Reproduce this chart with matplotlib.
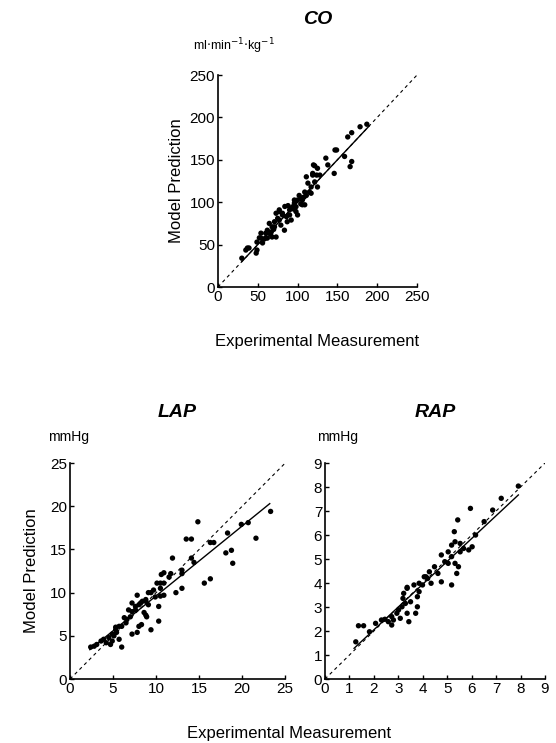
import numpy as np
import matplotlib
matplotlib.use('Agg')
import matplotlib.pyplot as plt

plt.rcParams['font.family'] = ['Liberation Sans', 'DejaVu Sans']

# CO  (ml/min/kg)
co_x = [30, 35, 37, 39, 48, 49, 49, 54, 54, 58,
        60, 60, 62, 62, 64.5, 67, 68, 68, 71, 71,
        73, 73, 75, 77, 77, 77, 79, 81, 81, 83.5,
        86, 87, 90, 90, 92, 92, 94, 96, 96, 98,
        98, 100, 100, 105, 106, 106, 109, 109, 111, 111,
        113, 115, 117, 117, 119, 119, 120, 121.5, 121.5, 124,
        125, 125, 128, 135.5, 138, 146, 147, 149, 159, 163,
        166, 168, 168, 178.5, 187,
        84, 88, 102, 104, 66, 56, 52, 70, 95, 108]
co_y = [34, 43.6, 46, 46, 40, 43.6, 53, 57.7, 63.5, 56.6,
        63.5, 58, 57.7, 67, 75, 65, 71, 59, 77, 71,
        59, 87, 81, 89, 91, 79, 73, 87, 85, 67,
        83, 77, 91, 85, 79, 93, 94.7, 99, 102.6, 89,
        94.7, 102.6, 85, 105, 97, 102.6, 112, 97, 108, 130,
        122.5, 112, 118, 110.6, 132, 134, 144, 124, 143, 132,
        140, 118, 132, 152, 144, 134, 161.6, 161.6, 154, 177,
        142, 148, 182, 189, 192,
        95, 96, 108, 98, 62, 52, 58, 68, 92, 106]
co_fit_x = [30, 190]
co_fit_y = [30, 190]

# LAP (mmHg)
lap_x = [2.4, 2.8, 3.1, 3.6, 3.9, 4.2, 4.5, 4.7, 4.9, 4.9,
         5.1, 5.3, 5.3, 5.4, 5.7, 5.7, 6.0, 6.0, 6.3, 6.5,
         6.6, 6.8, 7.0, 7.2, 7.2, 7.2, 7.6, 7.6, 7.8, 7.8,
         8.0, 8.0, 8.2, 8.3, 8.4, 8.6, 8.8, 8.8, 8.8, 8.9,
         9.1, 9.1, 9.4, 9.4, 9.7, 9.9, 10.1, 10.3, 10.3, 10.5,
         10.5, 10.5, 10.6, 10.9, 10.9, 10.9, 11.5, 11.7, 11.9, 12.3,
         13.0, 13.0, 13.0, 13.5, 14.1, 14.1, 14.4, 14.85, 15.6, 16.3,
         16.3, 16.7, 18.1, 18.3, 18.75, 18.9, 19.9, 20.7, 21.6, 23.3]
lap_y = [3.7, 3.8, 4.0, 4.4, 4.6, 4.2, 4.8, 4.0, 4.4, 5.2,
         5.0, 5.7, 6.0, 5.4, 4.6, 6.1, 3.7, 6.1, 7.1, 6.5,
         6.9, 8.0, 7.2, 5.2, 7.8, 8.8, 8.0, 8.4, 5.4, 9.7,
         6.1, 8.6, 8.8, 6.3, 9.0, 7.7, 7.4, 9.0, 9.2, 7.2,
         8.6, 10.0, 5.7, 10.0, 10.3, 9.5, 11.1, 6.7, 8.4, 9.6,
         10.5, 11.1, 12.1, 9.7, 11.1, 12.3, 11.8, 12.2, 14.0, 10.0,
         10.5, 12.2, 12.6, 16.2, 16.2, 14.0, 13.5, 18.2, 11.1, 11.6,
         15.8, 15.8, 14.6, 16.9, 14.9, 13.4, 17.9, 18.1, 16.3, 19.4]
lap_fit_x = [2.3, 23.2]
lap_fit_y = [3.4, 20.3]

# RAP (mmHg)
rap_x = [1.26, 1.37, 1.58, 1.82, 2.07, 2.31, 2.45, 2.59, 2.73, 2.73,
         2.80, 2.94, 3.08, 3.43, 3.36, 3.01, 3.15, 3.29, 3.50, 3.71,
         3.78, 3.22, 3.36, 3.19, 3.78, 3.85, 3.99, 4.13,
         3.36, 3.64, 3.85, 4.06, 4.27, 4.34, 4.76, 5.18, 4.48, 4.62,
         4.76, 5.04, 5.18, 5.32, 5.46, 5.39, 5.04, 5.18, 5.32, 5.53,
         5.53, 5.67, 5.88, 6.02, 5.29, 5.43, 5.95, 6.16, 6.51, 6.86,
         7.21, 7.91, 4.90, 4.20]
rap_y = [1.55, 2.22, 2.22, 1.97, 2.32, 2.46, 2.49, 2.39, 2.60, 2.25,
         2.46, 2.74, 2.53, 2.39, 2.74, 2.88, 3.01, 3.15, 3.22, 2.74,
         3.01, 3.57, 3.78, 3.36, 3.43, 3.64, 3.92, 4.26,
         3.82, 3.92, 3.99, 4.26, 4.47, 3.99, 4.05, 3.92, 4.68, 4.40,
         5.17, 5.30, 5.10, 4.82, 4.68, 4.40, 4.82, 5.58, 5.72, 5.65,
         5.30, 5.44, 5.38, 5.51, 6.14, 6.63, 7.11, 6.00, 6.56, 7.04,
         7.53, 8.04, 4.89, 4.19]
rap_fit_x = [1.19, 7.91]
rap_fit_y = [1.28, 7.67]


def panel(ax, x, y, fx, fy, lim, ticks, title, unit, tpad, uoff, ufs):
    ax.plot([0, lim], [0, lim], color='black', lw=0.8, ls=(0, (3, 3)))
    ax.plot(fx, fy, color='black', lw=1.0)
    ax.scatter(x, y, s=15, color='black', edgecolors='none', zorder=3)
    ax.set_xlim(0, lim)
    ax.set_ylim(0, lim)
    ax.set_xticks(ticks)
    ax.set_yticks(ticks)
    for s in ['top', 'right']:
        ax.spines[s].set_visible(False)
    for s in ['left', 'bottom']:
        ax.spines[s].set_linewidth(1.2)
    ax.tick_params(direction='in', length=3, width=1, labelsize=11, pad=2)
    ax.set_title(title, fontsize=14, fontweight='bold', style='italic', pad=tpad)
    ax.annotate(unit, xy=(0, 1), xycoords='axes fraction', xytext=uoff,
                textcoords='offset points', fontsize=ufs, ha='left', va='center')


fig = plt.figure(figsize=(5.56, 7.43), dpi=100)
ax_co = fig.add_axes([0.392, 0.6137, 0.358, 0.2853])
ax_lap = fig.add_axes([0.126, 0.0861, 0.387, 0.2907])
ax_rap = fig.add_axes([0.5845, 0.0861, 0.3957, 0.2907])

panel(ax_co, co_x, co_y, co_fit_x, co_fit_y, 250, range(0, 251, 50), 'CO',
      'ml$\\cdot$min$^{-1}$$\\cdot$kg$^{-1}$', 37, (-18, 21), 9)
panel(ax_lap, lap_x, lap_y, lap_fit_x, lap_fit_y, 25, range(0, 26, 5), 'LAP', 'mmHg',
      33, (-16, 19), 10)
panel(ax_rap, rap_x, rap_y, rap_fit_x, rap_fit_y, 9, range(0, 10), 'RAP', 'mmHg',
      33, (-6, 19), 10)

ax_co.set_ylabel('Model Prediction', fontsize=12, labelpad=4)
ax_lap.set_ylabel('Model Prediction', fontsize=12, labelpad=8)
ax_co.set_xlabel('Experimental Measurement', fontsize=12, labelpad=22)
fig.text(0.52, 0.003, 'Experimental Measurement', fontsize=12, ha='center', va='bottom')

fig.savefig('out.png', dpi=100)
